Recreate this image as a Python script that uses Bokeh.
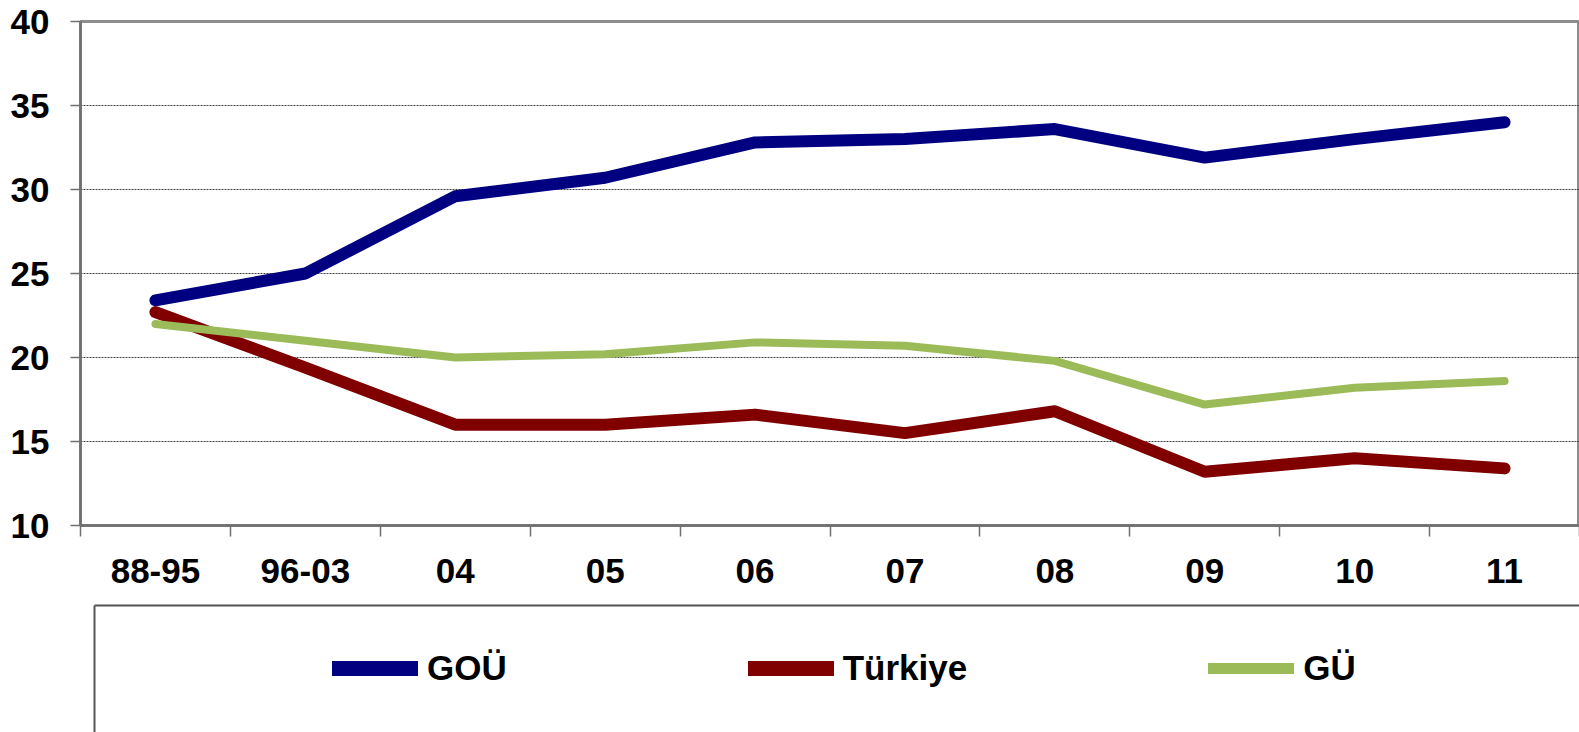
from bokeh.plotting import figure
from bokeh.models import (Range1d, LinearAxis, FixedTicker, Legend, LegendItem)
from bokeh.layouts import column
from bokeh.embed import file_html
from bokeh.resources import INLINE

categories = ["88-95", "96-03", "04", "05", "06", "07", "08", "09", "10", "11"]
gou = [23.4, 25.0, 29.6, 30.7, 32.8, 33.0, 33.6, 31.9, 33.0, 34.0]
turkiye = [22.7, 19.4, 16.0, 16.0, 16.6, 15.5, 16.8, 13.2, 14.0, 13.4]
gu = [22.0, 21.0, 20.0, 20.2, 20.9, 20.7, 19.8, 17.2, 18.2, 18.6]
series_names = ["GOÜ", "Türkiye", "GÜ"]
y_ticks = [10, 15, 20, 25, 30, 35, 40]

colors = ["#000080", "#800000", "#9BBB59"]
widths = [12, 12, 8]
legend_widths = [15, 15, 11]
FONT = "Liberation Sans"
FSIZE = "35px"

idx = list(range(len(categories)))
series = [gou, turkiye, gu]
W = 1579
p = figure(width=W, height=604, x_range=Range1d(-0.5, len(categories) - 0.5),
           y_range=Range1d(10, 40),
           output_backend="svg", toolbar_location=None, x_axis_location=None,
           y_axis_location=None, min_border_left=80, min_border_top=21,
           min_border_right=0, min_border_bottom=79)
p.frame_align = False

# category axis: labels at category centres, tick marks at category boundaries
cat_axis = LinearAxis(ticker=FixedTicker(ticks=idx,
                                         minor_ticks=[i - 0.5 for i in range(len(categories) + 1)]),
                      major_label_overrides={i: c for i, c in zip(idx, categories)},
                      major_tick_out=0, major_tick_in=0, major_tick_line_color=None,
                      minor_tick_out=11, minor_tick_in=0,
                      minor_tick_line_color="#707070", minor_tick_line_width=1.5,
                      axis_line_color="#707070", axis_line_width=2.5,
                      major_label_standoff=22,
                      major_label_text_font=FONT, major_label_text_font_style="bold",
                      major_label_text_font_size=FSIZE, major_label_text_color="black")
p.add_layout(cat_axis, "below")

yaxis = LinearAxis(ticker=FixedTicker(ticks=y_ticks), major_tick_out=10, major_tick_in=0,
                   minor_tick_out=0, minor_tick_in=0, major_label_standoff=21,
                   major_label_text_font=FONT, major_label_text_font_style="bold",
                   major_label_text_font_size=FSIZE, major_label_text_color="black",
                   axis_line_color="#707070", axis_line_width=2.5,
                   major_tick_line_color="#707070", major_tick_line_width=1.5)
p.add_layout(yaxis, "left")

p.xgrid.visible = False
p.ygrid.ticker = FixedTicker(ticks=y_ticks)
p.ygrid.grid_line_color = "#404040"
p.ygrid.grid_line_dash = "2 1"
p.ygrid.grid_line_width = 1
p.outline_line_color = "#8c8c8c"
p.outline_line_width = 3
p.background_fill_color = "white"
p.border_fill_color = "white"

for vals, c, w in zip(series, colors, widths):
    p.line(idx, vals, line_color=c, line_width=w, line_cap="round", line_join="round")

# legend panel (its series renderers fall outside its ranges; only the legend shows)
p2 = figure(width=W, height=128, x_range=Range1d(0, 1), y_range=Range1d(0, 1),
            output_backend="svg", toolbar_location=None, x_axis_location=None,
            y_axis_location=None, min_border_left=94, min_border_top=1,
            min_border_right=0, min_border_bottom=0)
p2.frame_align = False
p2.grid.visible = False
p2.outline_line_color = None
for loc in ["above", "left"]:
    ax = LinearAxis(ticker=FixedTicker(ticks=[]), major_tick_out=0, major_tick_in=0,
                    minor_tick_out=0, minor_tick_in=0, major_label_standoff=0,
                    axis_line_color="#555555", axis_line_width=2)
    p2.add_layout(ax, loc)

items = []
for name, vals, c, w in zip(series_names, series, colors, legend_widths):
    r = p2.line(idx, vals, line_color=c, line_width=w, line_cap="round")
    items.append(LegendItem(label=name, renderers=[r]))
legend = Legend(items=items, orientation="horizontal", location=(238, 44),
                border_line_color=None, background_fill_alpha=0, padding=0, margin=0,
                spacing=241, glyph_width=86, glyph_height=40, label_standoff=9,
                label_text_font=FONT, label_text_font_style="bold",
                label_text_font_size=FSIZE, label_text_color="black")
p2.add_layout(legend)

layout = column(p, p2, spacing=0)
open("out.html", "w").write(file_html(layout, INLINE))
